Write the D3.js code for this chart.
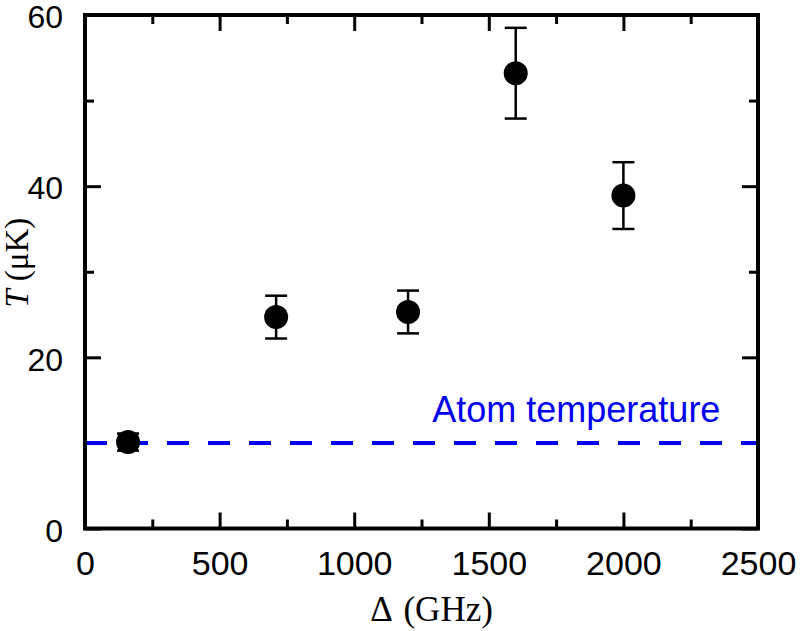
<!DOCTYPE html>
<html>
<head>
<meta charset="utf-8">
<script src="https://cdn.jsdelivr.net/npm/d3@7"></script>
<style>
  body { margin: 0; background: #fff; }
  svg { display: block; }
</style>
</head>
<body>
<svg></svg>
<script>
// detuning (GHz), temperature (uK) and its error bar
const detuning = [160, 710, 1200, 1600, 2000];
const temperature = [10.1, 24.7, 25.3, 53.2, 38.9];
const tempError = [1.0, 2.5, 2.5, 5.3, 3.9];
const atomTemp = 10;

const xMajor = [0, 500, 1000, 1500, 2000, 2500];
const xMinor = [250, 750, 1250, 1750, 2250];
const yMajor = [0, 20, 40, 60];
const yMinor = [10, 30, 50];

const svgWidth = 800, svgHeight = 631;
const plotLeft = 85, plotRight = 758, plotTop = 15, plotBottom = 528.5;

const svg = d3.select('svg')
    .attr('width', svgWidth)
    .attr('height', svgHeight);

const x = d3.scaleLinear().domain([0, 2500]).range([plotLeft, plotRight]);
const y = d3.scaleLinear().domain([0, 60]).range([plotBottom, plotTop]);

const tickFont = '"Liberation Sans", Arial, sans-serif';

// ticks on all four sides, pointing in
let addAxis = function(axis, values, size, transform, labels, fontSize) {
    let g = svg.append('g')
        .attr('transform', transform)
        .call(axis.tickValues(values)
            .tickSizeInner(-size)
            .tickSizeOuter(0)
            .tickPadding(22)
            .tickFormat(labels ? d3.format('d') : ''));
    g.select('.domain').remove();
    g.selectAll('line').attr('stroke', '#000').attr('stroke-width', 3);
    g.selectAll('text')
        .attr('fill', '#000')
        .style('font-family', tickFont)
        .style('font-size', fontSize + 'px');
    return g;
};

addAxis(d3.axisBottom(x), xMajor, 16, `translate(0,${plotBottom})`, true, 34);
addAxis(d3.axisBottom(x), xMinor, 9, `translate(0,${plotBottom})`, false, 34);
addAxis(d3.axisTop(x), xMajor, 16, `translate(0,${plotTop})`, false, 34);
addAxis(d3.axisTop(x), xMinor, 9, `translate(0,${plotTop})`, false, 34);
addAxis(d3.axisLeft(y), yMajor, 16, `translate(${plotLeft},0)`, true, 32)
    .selectAll('text').attr('dy', '0.4em');
addAxis(d3.axisLeft(y), yMinor, 9, `translate(${plotLeft},0)`, false, 32);
addAxis(d3.axisRight(y), yMajor, 16, `translate(${plotRight},0)`, false, 32);
addAxis(d3.axisRight(y), yMinor, 9, `translate(${plotRight},0)`, false, 32);

// atom temperature reference line
svg.append('line')
    .attr('x1', x(0)).attr('x2', x(2500))
    .attr('y1', y(atomTemp)).attr('y2', y(atomTemp))
    .attr('stroke', '#0000f0')
    .attr('stroke-width', 4)
    .attr('stroke-dasharray', '22,19');

svg.append('text')
    .attr('x', x(1290))
    .attr('y', y(atomTemp) - 21)
    .attr('fill', '#0000f0')
    .style('font-family', tickFont)
    .style('font-size', '36px')
    .text('Atom temperature');

// frame
svg.append('rect')
    .attr('x', plotLeft).attr('y', plotTop)
    .attr('width', plotRight - plotLeft).attr('height', plotBottom - plotTop)
    .attr('fill', 'none')
    .attr('stroke', '#000')
    .attr('stroke-width', 4);

const points = detuning.map((d, i) => ({x: d, y: temperature[i], e: tempError[i]}));

// error bars
const bars = svg.append('g').attr('stroke', '#000').attr('stroke-width', 2.5);
points.forEach(p => {
    bars.append('line')
        .attr('x1', x(p.x)).attr('x2', x(p.x))
        .attr('y1', y(p.y - p.e)).attr('y2', y(p.y + p.e));
    [p.y - p.e, p.y + p.e].forEach(v => {
        bars.append('line')
            .attr('x1', x(p.x) - 11).attr('x2', x(p.x) + 11)
            .attr('y1', y(v)).attr('y2', y(v));
    });
});

svg.append('g').selectAll('circle')
    .data(points).enter().append('circle')
    .attr('cx', d => x(d.x))
    .attr('cy', d => y(d.y))
    .attr('r', 12)
    .attr('fill', '#000');

// axis titles
const serif = '"Liberation Serif", "Times New Roman", serif';
svg.append('text')
    .attr('x', (plotLeft + plotRight) / 2 + 10)
    .attr('y', 621)
    .attr('text-anchor', 'middle')
    .style('font-family', serif)
    .style('font-size', '35px')
    .style('word-spacing', '4px')
    .text('\u0394 (GHz)');

const yTitle = svg.append('text')
    .attr('transform', `translate(28,${(plotTop + plotBottom) / 2 - 9}) rotate(-90)`)
    .attr('text-anchor', 'middle')
    .style('font-family', serif)
    .style('font-size', '33px');
yTitle.append('tspan').style('font-style', 'italic').text('T');
yTitle.append('tspan').text(' (\u03bcK)');
</script>
</body>
</html>
